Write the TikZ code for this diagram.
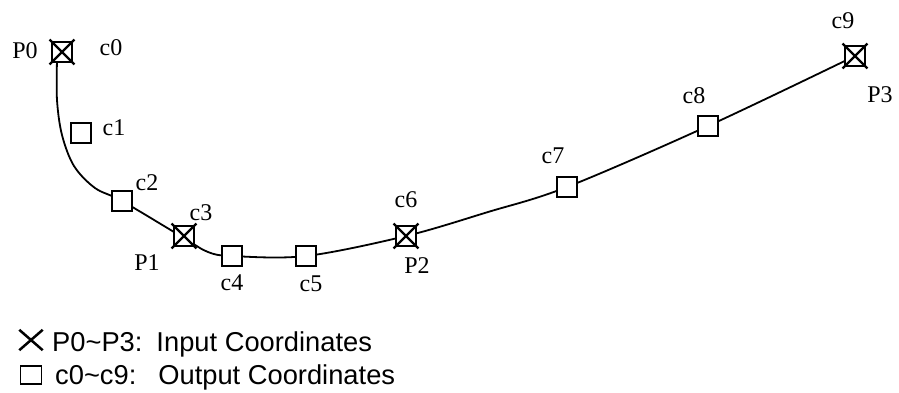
\documentclass[tikz,border=0pt]{standalone}
\usepackage{fontspec}
\setmainfont{Liberation Serif}
\newfontfamily\legendfont{Liberation Sans}
\begin{document}
\begin{tikzpicture}[x=1pt,y=-1pt,
  box/.style={draw, line width=1.9pt, fill=white, minimum size=20pt, inner sep=0pt},
  lbl/.style={font=\fontsize{24}{26}\selectfont, anchor=base, inner sep=0pt},
  curve/.style={line width=1.8pt},
  crossline/.style={line width=2.4pt},
  legtext/.style={font=\legendfont\fontsize{27.3}{29}\selectfont, anchor=base west, inner sep=0pt}]
\useasboundingbox (0,0) rectangle (899,392);
% helper coordinates on the curve
\coordinate (s0) at (57,60);
\coordinate (a1) at (57,100);
\coordinate (a2) at (62,135);
\coordinate (a3) at (74,166);
\coordinate (a4) at (95,188);
\coordinate (a5) at (208,252);
\coordinate (a6) at (488,212);
% points (positions only, for the curve)
\coordinate (pc2) at (122,201);
\coordinate (pc3) at (184,238);
\coordinate (pc4) at (232,256);
\coordinate (pc5) at (306,256);
\coordinate (pc6) at (406,236);
\coordinate (pc7) at (567,187);
\coordinate (pc8) at (708,126);
\coordinate (pc9) at (855,56);
\draw[curve] plot[smooth, tension=0.55] coordinates {(s0) (a1) (a2) (a3) (a4) (pc2) (pc3) (a5) (pc4) (pc5) (pc6) (a6) (pc7) (pc8) (pc9)};
% boxes
\node[box] (c0) at (62,52) {};
\node[box] (c1) at (81,133) {};
\node[box] (c2) at (pc2) {};
\node[box] (c3) at (184,236) {};
\node[box] (c4) at (pc4) {};
\node[box] (c5) at (pc5) {};
\node[box] (c6) at (pc6) {};
\node[box] (c7) at (pc7) {};
\node[box] (c8) at (pc8) {};
\node[box] (c9) at (pc9) {};
% crosses for input points
\foreach \n in {c0,c3,c6,c9}{
  \draw[crossline] ([shift={(-1.5pt,1.5pt)}]\n.north west) -- ([shift={(1.5pt,-1.5pt)}]\n.south east)
                   ([shift={(1.5pt,1.5pt)}]\n.north east) -- ([shift={(-1.5pt,-1.5pt)}]\n.south west);
}
% labels
\node[lbl] (lP0) at (25,58) {P0};
\node[lbl] (lc0) at (111,55) {c0};
\node[lbl] (lc1) at (114,135) {c1};
\node[lbl] (lc2) at (147,190) {c2};
\node[lbl] (lc3) at (201,220) {c3};
\node[lbl] (lP1) at (147,270) {P1};
\node[lbl] (lc4) at (232,290) {c4};
\node[lbl] (lc5) at (311,291) {c5};
\node[lbl] (lc6) at (406,207) {c6};
\node[lbl] (lP2) at (417,273) {P2};
\node[lbl] (lc7) at (553,163) {c7};
\node[lbl] (lc8) at (694,103) {c8};
\node[lbl] (lc9) at (843,28) {c9};
\node[lbl] (lP3) at (880,102) {P3};
% legend
\node[minimum width=23pt, minimum height=20pt, inner sep=0pt] (legx) at (31,340) {};
\draw[line width=2.5pt] (legx.north west) -- (legx.south east) (legx.north east) -- (legx.south west);
\node[draw, line width=1.7pt, minimum width=21pt, minimum height=18pt, inner sep=0pt] (legb) at (31,375) {};
\node[legtext] (t1) at (52,351) {P0\textasciitilde P3:\hspace{14pt}Input Coordinates};
\node[legtext] (t2) at (55,384) {c0\textasciitilde c9:\hspace{22pt}Output Coordinates};
\end{tikzpicture}
\end{document}
